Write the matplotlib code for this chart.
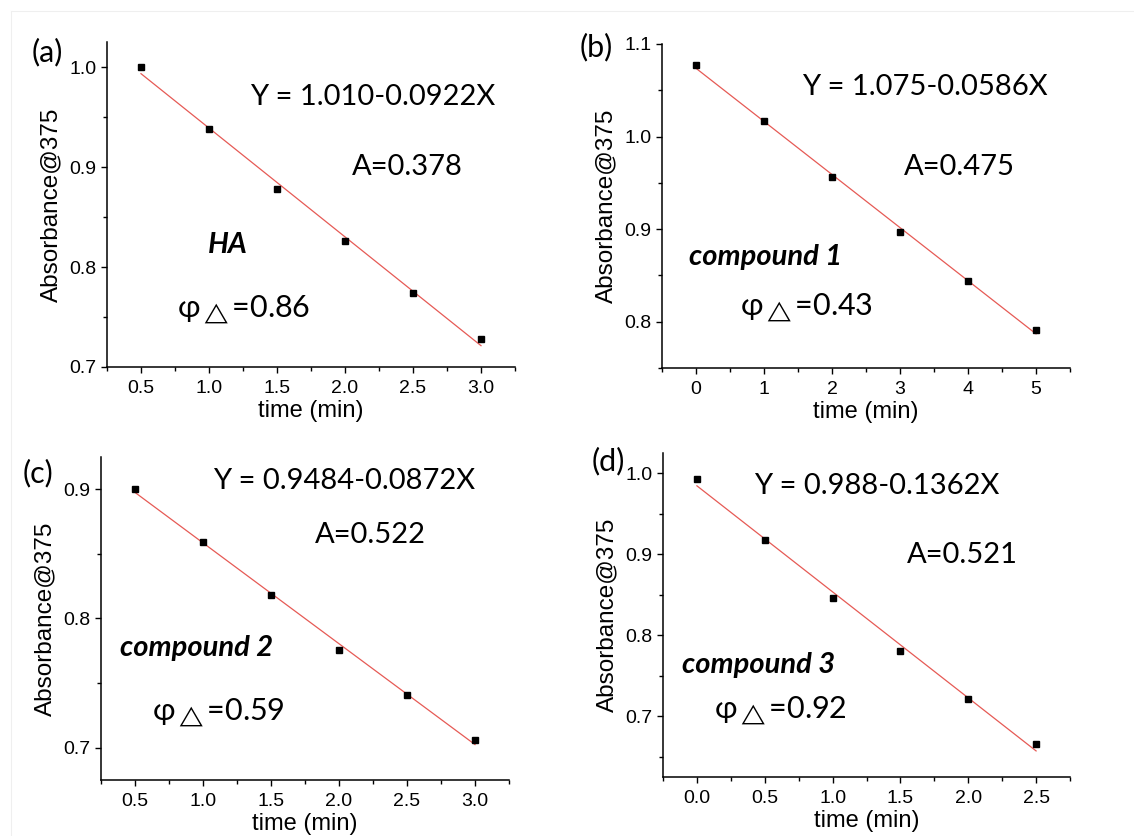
import numpy as np
import matplotlib
matplotlib.use("Agg")
import matplotlib.pyplot as plt
from matplotlib.ticker import MultipleLocator, FormatStrFormatter
from matplotlib.lines import Line2D

plt.rcParams['font.family'] = ['Liberation Sans', 'DejaVu Sans']
plt.rcParams['mathtext.fontset'] = 'custom'
plt.rcParams['mathtext.rm'] = 'Lato'
plt.rcParams['mathtext.it'] = 'Lato:italic'
plt.rcParams['mathtext.bf'] = 'Lato:bold'

# ---- data ----
time_a = [0.5, 1.0, 1.5, 2.0, 2.5, 3.0]
abs_a = [1.000, 0.938, 0.878, 0.826, 0.774, 0.728]
time_b = [0, 1, 2, 3, 4, 5]
abs_b = [1.077, 1.017, 0.956, 0.897, 0.844, 0.791]
time_c = [0.5, 1.0, 1.5, 2.0, 2.5, 3.0]
abs_c = [0.900, 0.859, 0.818, 0.776, 0.741, 0.706]
time_d = [0.0, 0.5, 1.0, 1.5, 2.0, 2.5]
abs_d = [0.993, 0.918, 0.846, 0.781, 0.721, 0.666]

panel_labels = ['(a)', '(b)', '(c)', '(d)']
equations = ['Y = 1.010-0.0922X', 'Y = 1.075-0.0586X',
             'Y = 0.9484-0.0872X', 'Y = 0.988-0.1362X']
a_values = ['A=0.378', 'A=0.475', 'A=0.522', 'A=0.521']
names = ['HA', 'compound 1', 'compound 2', 'compound 3']
phi_values = ['0.86', '0.43', '0.59', '0.92']

W, H = 1134, 836
fig = plt.figure(figsize=(W / 100, H / 100), dpi=100)

# faint image frame
fig.add_artist(Line2D([11 / W, 1], [1 - 11 / H, 1 - 11 / H], color='#efefef', lw=0.8))
fig.add_artist(Line2D([11 / W, 11 / W], [0, 1 - 11 / H], color='#efefef', lw=0.8))

def ax_rect(l, r, t, b):
    return [l / W, 1 - b / H, (r - l) / W, (b - t) / H]

panels = [
    dict(x=time_a, y=abs_a, rect=ax_rect(107, 515, 42, 367),
         xlim=(0.25, 3.25), ylim=(0.7, 1.025), xmaj=0.5, ymaj=0.1, xfmt='%.1f', yfmt='%.1f',
         lab=(32, 52), eq=(250, 97), A=(352, 167), name=(208, 245), phi=(177, 310)),
    dict(x=time_b, y=abs_b, rect=ax_rect(662, 1070, 44, 368),
         xlim=(-0.5, 5.5), ylim=(0.75, 1.1), xmaj=1, ymaj=0.1, xfmt='%d', yfmt='%.1f',
         lab=(580, 47), eq=(802, 87), A=(904, 167), name=(689, 257), phi=(740, 308)),
    dict(x=time_c, y=abs_c, rect=ax_rect(101, 509, 457, 780),
         xlim=(0.25, 3.25), ylim=(0.675, 0.925), xmaj=0.5, ymaj=0.1, xfmt='%.1f', yfmt='%.1f',
         lab=(23, 473), eq=(213, 481), A=(315, 535), name=(120, 648), phi=(152, 713)),
    dict(x=time_d, y=abs_d, rect=ax_rect(663, 1070, 453, 777),
         xlim=(-0.25, 2.75), ylim=(0.625, 1.025), xmaj=0.5, ymaj=0.1, xfmt='%.1f', yfmt='%.1f',
         lab=(592, 461), eq=(754, 486), A=(907, 555), name=(682, 665), phi=(714, 711)),
]

tfont = ['Lato', 'DejaVu Sans']
FS = 21

def ftext(x, y, s, **kw):
    fig.text(x / W, 1 - y / H, s, va='center', ha='left', **kw)

for i, p in enumerate(panels):
    ax = fig.add_axes(p['rect'])
    xs = np.array(p['x'], dtype=float)
    ys = np.array(p['y'], dtype=float)
    k, b0 = np.polyfit(xs, ys, 1)
    ax.plot(xs, k * xs + b0, color='#e65a55', lw=0.9, zorder=2)
    ax.plot(xs, ys, 's', color='black', markersize=4.8, zorder=3)
    ax.set_xlim(*p['xlim'])
    ax.set_ylim(*p['ylim'])
    ax.xaxis.set_major_locator(MultipleLocator(p['xmaj']))
    ax.xaxis.set_minor_locator(MultipleLocator(p['xmaj'] / 2))
    ax.yaxis.set_major_locator(MultipleLocator(p['ymaj']))
    ax.yaxis.set_minor_locator(MultipleLocator(p['ymaj'] / 2))
    ax.xaxis.set_major_formatter(FormatStrFormatter(p['xfmt']))
    ax.yaxis.set_major_formatter(FormatStrFormatter(p['yfmt']))
    for s in ['top', 'right']:
        ax.spines[s].set_visible(False)
    for s in ['left', 'bottom']:
        ax.spines[s].set_linewidth(1.1)
    ax.tick_params(which='major', direction='out', length=4.5, width=1.0,
                   labelsize=14, colors='black')
    ax.tick_params(which='minor', direction='out', length=2.8, width=1.0)
    ax.tick_params(axis='x', pad=5)
    ax.tick_params(axis='y', pad=3)
    ax.set_xlabel('time (min)', fontsize=17, labelpad=2)
    ax.set_ylabel('Absorbance@375', fontsize=17.5, labelpad=5)

    ftext(*p['lab'], panel_labels[i], fontsize=22, family=tfont)
    ftext(*p['eq'], equations[i], fontsize=FS, family=tfont)
    ftext(*p['A'], a_values[i], fontsize=FS, family=tfont)
    ftext(*p['name'], names[i], fontsize=FS, family=tfont, fontweight='bold', fontstyle='italic')
    ftext(*p['phi'], 'φ$_{\\triangle}$=' + phi_values[i], fontsize=FS + 1, family=tfont)

fig.savefig('out.png', dpi=100, facecolor='white')
